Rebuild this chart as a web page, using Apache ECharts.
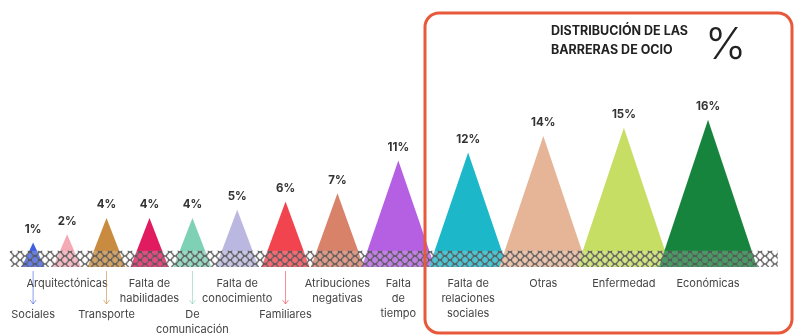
<!DOCTYPE html>
<html>
<head>
<meta charset="utf-8">
<script src="https://cdn.jsdelivr.net/npm/echarts@6/dist/echarts.min.js"></script>
<style>
html, body { margin: 0; padding: 0; background: #fff; }
#chart { width: 798px; height: 336px; }
</style>
</head>
<body>
<div id="chart"></div>
<script>
// barreras de ocio, % de respuestas
const categories = ['Sociales', 'Arquitectónicas', 'Transporte', 'Falta de\nhabilidades', 'De\ncomunicación',
  'Falta de\nconocimiento', 'Familiares', 'Atribuciones\nnegativas', 'Falta\nde\ntiempo',
  'Falta de\nrelaciones\nsociales', 'Otras', 'Enfermedad', 'Económicas']
const values = [1, 2, 4, 4, 4, 5, 6, 7, 11, 12, 14, 15, 16]
const colors = ['#3f5ee0', '#f4aab5', '#c98b3f', '#e01b5f', '#7fd1b6', '#bab8e1', '#f2444f',
  '#d8826a', '#b560e3', '#1cb7c9', '#e6b598', '#c6de63', '#17843d']
// labels that hang lower, with an arrow
const hangLow = [true, false, true, false, true, false, true, false, false, false, false, false, false]
const title = 'DISTRIBUCIÓN DE LAS\nBARRERAS DE OCIO'

const GAP = 8
const BASE = -2
let acc = 0
const peaks = values.map((v, i) => {
  let slot = GAP + v
  let center = acc + slot / 2
  acc += slot
  return [center, v, i]
})
const total = acc

// chain-link pattern for the ground band
const tile = document.createElement('canvas')
tile.width = 10
tile.height = 8
const ctx = tile.getContext('2d')
ctx.strokeStyle = 'rgba(85,85,85,0.75)'
ctx.fillStyle = 'rgba(255,255,255,0.2)'
ctx.lineWidth = 1.1
;[[0, 0], [10, 0], [0, 8], [10, 8], [5, 4]].forEach(p => {
  ctx.beginPath()
  ctx.arc(p[0], p[1], 3.6, 0, Math.PI * 2)
  ctx.fill()
  ctx.stroke()
})

function renderPeak (params, api) {
  let cx = api.value(0)
  let v = api.value(1)
  let i = api.value(2)
  let half = (5 + 1.4 * v) / 2
  let top = api.coord([cx, v])
  let left = api.coord([cx - half, BASE])
  let right = api.coord([cx + half, BASE])
  let col = colors[i]
  let children = [
    { type: 'polygon', shape: { points: [left, top, right] }, style: { fill: col } },
    {
      type: 'text', x: top[0], y: top[1] - 7,
      style: { text: v + '%', align: 'center', verticalAlign: 'bottom', font: 'bold 11.5px Inter', fill: '#333' }
    }
  ]
  let low = hangLow[i]
  if (low) {
    let y0 = left[1] + 4
    let y1 = left[1] + 37
    children.push({
      type: 'polyline',
      shape: { points: [[top[0], y0], [top[0], y1]] },
      style: { stroke: col, lineWidth: 1, opacity: 0.6 }
    })
    children.push({
      type: 'polyline',
      shape: { points: [[top[0] - 3, y1 - 4], [top[0], y1], [top[0] + 3, y1 - 4]] },
      style: { stroke: col, lineWidth: 1, fill: 'none', opacity: 0.6 }
    })
  }
  children.push({
    type: 'text', x: top[0], y: left[1] + (low ? 40 : 9),
    style: {
      text: categories[i], align: 'center', verticalAlign: 'top',
      font: '11px Inter', lineHeight: 15, fill: '#444'
    }
  })
  return { type: 'group', children: children }
}

function renderBand (params, api) {
  let a = api.coord([api.value(0), 0])
  let b = api.coord([api.value(1), BASE])
  return {
    type: 'rect',
    shape: { x: a[0], y: a[1], width: b[0] - a[0], height: b[1] - a[1] },
    style: { fill: { image: tile, repeat: 'repeat' } }
  }
}

const chart = echarts.init(document.getElementById('chart'))
chart.setOption({
  animation: false,
  backgroundColor: '#fff',
  grid: { left: 17, right: 47, top: 5, bottom: 69 },
  xAxis: { type: 'value', min: 0, max: total, show: false },
  yAxis: { type: 'value', min: BASE, max: 30, show: false },
  graphic: [
    {
      type: 'rect', z: 100,
      shape: { x: 425, y: 13, width: 367, height: 320, r: 14 },
      style: { fill: 'none', stroke: '#e8583b', lineWidth: 3 }
    },
    {
      type: 'text', left: 551, top: 22,
      style: { text: title, font: 'bold 12.5px Inter', lineHeight: 19, fill: '#222' }
    },
    {
      type: 'text', left: 705, top: 24,
      style: { text: '%', font: '300 44px Inter', fill: '#222' }
    }
  ],
  series: [
    {
      type: 'custom',
      z: 2,
      renderItem: renderPeak,
      data: peaks
    },
    {
      type: 'custom',
      z: 3,
      renderItem: renderBand,
      data: [[-2, total + 7.5]]
    }
  ]
})
</script>
</body>
</html>
